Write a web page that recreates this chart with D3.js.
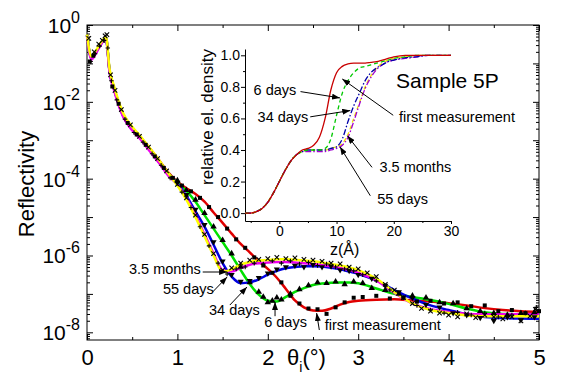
<!DOCTYPE html>
<html>
<head>
<meta charset="utf-8">
<script src="https://cdn.jsdelivr.net/npm/d3@7"></script>
<style>
    body { margin: 0; background: #fff; }
    svg { display: block; font-family: "Liberation Sans", Arial, sans-serif; }
</style>
</head>
<body>
<div id="chart"></div>
<script>
'use strict';

// Angle grid (deg) of the fitted curves
const thetaGrid = [0, 0.05, 0.1, 0.15, 0.21, 0.25, 0.3, 0.4, 0.5, 0.6, 0.7, 0.8, 0.9,
    1.0, 1.1, 1.2, 1.3, 1.4, 1.5, 1.6, 1.7, 1.8, 1.9, 2.0, 2.1, 2.2, 2.3, 2.4, 2.5, 2.6, 2.7, 2.8, 2.9, 3.0,
    3.2, 3.4, 3.6, 3.8, 4.0, 4.2, 4.4, 4.6, 4.8, 5.0];

// Fitted log10(reflectivity)
const fitFirst = [-0.26, -0.85, -0.7, -0.5, -0.34, -1.2, -1.65, -2.33, -2.68, -2.94, -3.23, -3.53, -3.84,
    -4.08, -4.25, -4.4, -4.6, -4.88, -5.15, -5.43, -5.7, -5.92, -6.15, -6.35, -6.58, -6.87, -7.17, -7.35, -7.43, -7.44, -7.38, -7.28, -7.21, -7.18,
    -7.15, -7.14, -7.17, -7.2, -7.24, -7.3, -7.37, -7.42, -7.45, -7.47];
const fit6d = [-0.26, -0.86, -0.7, -0.5, -0.34, -1.2, -1.66, -2.35, -2.7, -2.96, -3.26, -3.56, -3.87,
    -4.1, -4.32, -4.6, -4.95, -5.3, -5.65, -6.0, -6.38, -6.74, -7.02, -7.18, -7.2, -7.08, -6.95, -6.85, -6.77, -6.73, -6.71, -6.7, -6.7, -6.72,
    -6.86, -7.0, -7.08, -7.16, -7.26, -7.38, -7.48, -7.52, -7.53, -7.53];
const fit34d = [-0.27, -0.87, -0.71, -0.51, -0.35, -1.22, -1.68, -2.37, -2.72, -2.98, -3.28, -3.58, -3.9,
    -4.12, -4.45, -4.85, -5.25, -5.72, -6.2, -6.55, -6.72, -6.7, -6.62, -6.5, -6.4, -6.33, -6.3, -6.28, -6.28, -6.29, -6.32, -6.36, -6.42, -6.48,
    -6.65, -6.9, -7.12, -7.3, -7.42, -7.53, -7.6, -7.63, -7.64, -7.65];
const fit55d = [-0.28, -0.9, -0.73, -0.52, -0.36, -1.24, -1.7, -2.39, -2.74, -3.0, -3.3, -3.6, -3.92,
    -4.15, -4.5, -4.95, -5.45, -5.95, -6.38, -6.42, -6.32, -6.24, -6.2, -6.18, -6.17, -6.17, -6.18, -6.2, -6.22, -6.25, -6.28, -6.32, -6.38, -6.45,
    -6.65, -6.97, -7.25, -7.4, -7.47, -7.52, -7.53, -7.53, -7.53, -7.53];
const fit35m = [-0.25, -0.82, -0.66, -0.47, -0.32, -1.15, -1.6, -2.3, -2.65, -2.92, -3.22, -3.53, -3.86,
    -4.18, -4.55, -5.0, -5.5, -6.0, -6.42, -6.36, -6.24, -6.17, -6.13, -6.12, -6.1, -6.1, -6.11, -6.13, -6.15, -6.18, -6.22, -6.26, -6.31, -6.38,
    -6.6, -6.95, -7.25, -7.42, -7.5, -7.56, -7.58, -7.58, -7.58, -7.58];

// Measured points [theta, log10(R)]
const ptsFirst = [[0.03, -0.95], [0.07, -0.8], [0.28, -1.6], [0.35, -2.05], [0.45, -2.55], [0.55, -2.85], [0.65, -3.12],
    [0.75, -3.42], [0.85, -3.72], [0.95, -3.98], [1.05, -4.18], [1.15, -4.33], [1.25, -4.5], [1.35, -4.74], [1.45, -5.0],
    [1.55, -5.3], [1.65, -5.58], [1.75, -5.8], [1.85, -6.05], [1.95, -6.26], [2.05, -6.45], [2.15, -6.7], [2.25, -7.05],
    [2.35, -7.25], [2.45, -7.38], [2.55, -7.4], [2.65, -7.52], [2.75, -7.35], [2.85, -7.22], [2.95, -7.1], [3.05, -7.08],
    [3.2, -7.05], [3.35, -7.12], [3.5, -7.1], [3.65, -7.2], [3.8, -7.18], [3.95, -7.25], [4.1, -7.22], [4.25, -7.32],
    [4.4, -7.3], [4.55, -7.45], [4.7, -7.42], [4.85, -7.5], [5.0, -7.45]];
const pts6d = [[1.0, -4.05], [1.1, -4.3], [1.2, -4.55], [1.3, -4.9], [1.4, -5.25], [1.5, -5.6], [1.6, -5.95], [1.7, -6.3],
    [1.8, -6.7], [1.9, -6.95], [1.95, -7.08], [2.0, -7.22], [2.05, -7.18], [2.1, -7.1], [2.15, -7.15], [2.25, -7.0],
    [2.35, -6.88], [2.45, -6.78], [2.55, -6.7], [2.65, -6.72], [2.75, -6.68], [2.85, -6.75], [2.95, -6.68], [3.05, -6.72],
    [3.15, -6.85], [3.3, -6.9], [3.45, -7.0], [3.6, -7.05], [3.75, -7.1], [3.9, -7.22], [4.05, -7.25], [4.2, -7.38],
    [4.35, -7.45], [4.5, -7.5], [4.65, -7.55], [4.8, -7.5], [4.95, -7.48]];
const pts34d = [[1.0, -4.1], [1.1, -4.42], [1.2, -4.8], [1.3, -5.2], [1.4, -5.65], [1.5, -6.15], [1.6, -6.5], [1.7, -6.68],
    [1.8, -6.66], [1.9, -6.58], [2.0, -6.46], [2.1, -6.36], [2.2, -6.3], [2.3, -6.26], [2.4, -6.3], [2.5, -6.24],
    [2.6, -6.3], [2.7, -6.28], [2.8, -6.38], [2.9, -6.4], [3.0, -6.5], [3.15, -6.6], [3.3, -6.78], [3.45, -6.95],
    [3.6, -7.1], [3.75, -7.28], [3.9, -7.35], [4.05, -7.5], [4.2, -7.55], [4.35, -7.62], [4.5, -7.7], [4.65, -7.6],
    [4.8, -7.68], [4.95, -7.6]];
const pts55d = [[0.04, -0.95], [0.09, -0.75], [0.14, -0.55], [0.19, -0.4], [0.23, -0.6], [0.27, -1.45], [0.33, -1.95],
    [0.42, -2.45], [0.52, -2.8], [0.62, -3.05], [0.72, -3.35], [0.82, -3.65], [0.92, -3.98], [1.05, -4.35], [1.15, -4.75],
    [1.25, -5.25], [1.35, -5.75], [1.45, -6.2], [1.55, -6.48], [1.65, -6.35], [1.75, -6.3], [1.85, -6.2], [1.95, -6.22],
    [2.05, -6.14], [2.15, -6.2], [2.25, -6.14], [2.35, -6.22], [2.45, -6.18], [2.55, -6.26], [2.65, -6.22], [2.75, -6.3],
    [2.85, -6.35], [2.95, -6.4], [3.05, -6.5], [3.2, -6.66], [3.35, -6.9], [3.5, -7.1], [3.65, -7.3], [3.8, -7.42],
    [3.95, -7.5], [4.1, -7.48], [4.25, -7.55], [4.4, -7.5], [4.55, -7.6], [4.7, -7.55], [4.85, -7.5], [4.97, -7.35]];
const pts35m = [[0.02, -0.35], [0.08, -0.7], [0.13, -0.5], [0.17, -0.4], [0.2, -0.28], [0.22, -0.25], [0.26, -1.3],
    [0.31, -1.7], [0.38, -2.2], [0.48, -2.6], [0.58, -2.9], [0.68, -3.18], [0.78, -3.48], [0.88, -3.8], [1.0, -4.15],
    [1.1, -4.5], [1.2, -4.95], [1.3, -5.45], [1.4, -5.95], [1.5, -6.38], [1.6, -6.32], [1.7, -6.2], [1.8, -6.12],
    [1.9, -6.1], [2.0, -6.08], [2.1, -6.05], [2.2, -6.08], [2.3, -6.06], [2.4, -6.1], [2.5, -6.12], [2.6, -6.15],
    [2.7, -6.2], [2.8, -6.22], [2.9, -6.3], [3.0, -6.35], [3.1, -6.45], [3.2, -6.55], [3.3, -6.75], [3.4, -6.9],
    [3.5, -7.1], [3.6, -7.25], [3.7, -7.38], [3.8, -7.45], [3.9, -7.5], [4.0, -7.55], [4.1, -7.6], [4.2, -7.52],
    [4.3, -7.62], [4.4, -7.55], [4.5, -7.6], [4.6, -7.65], [4.7, -7.6], [4.8, -7.7], [4.9, -7.58], [4.96, -7.4]];

// Inset: depth grid z (Å) and relative electron density profiles
const zGrid = [-6, -5, -4, -3, -2, -1, 0, 1, 2, 3, 4, 5, 6, 7, 8, 9, 10, 11, 12, 13, 14, 15, 16, 17, 18, 19, 20, 22, 24, 26, 28, 30];
const rhoFirst = [0, 0, 0.01, 0.03, 0.07, 0.13, 0.2, 0.27, 0.33, 0.37, 0.4, 0.41, 0.43, 0.48, 0.6, 0.78, 0.89, 0.93, 0.945,
    0.95, 0.95, 0.95, 0.955, 0.96, 0.97, 0.98, 0.99, 1, 1, 1, 1, 1];
const rho6d = [0, 0, 0.01, 0.03, 0.07, 0.13, 0.2, 0.27, 0.33, 0.37, 0.39, 0.4, 0.4, 0.4, 0.41, 0.47, 0.62, 0.76, 0.84,
    0.89, 0.92, 0.93, 0.94, 0.95, 0.96, 0.97, 0.98, 0.99, 1, 1, 1, 1];
const rho34d = [0, 0, 0.01, 0.03, 0.07, 0.13, 0.2, 0.27, 0.33, 0.37, 0.39, 0.4, 0.4, 0.4, 0.4, 0.41, 0.42, 0.47, 0.58,
    0.68, 0.76, 0.84, 0.89, 0.92, 0.94, 0.96, 0.97, 0.985, 0.99, 1, 1, 1];
const rho55d = [0, 0, 0.01, 0.03, 0.07, 0.13, 0.2, 0.27, 0.33, 0.37, 0.39, 0.39, 0.39, 0.39, 0.39, 0.4, 0.41, 0.43, 0.48,
    0.58, 0.69, 0.79, 0.86, 0.91, 0.94, 0.96, 0.97, 0.98, 0.99, 1, 1, 1];
const rho35m = [0, 0, 0.01, 0.03, 0.07, 0.13, 0.2, 0.27, 0.33, 0.37, 0.39, 0.4, 0.4, 0.4, 0.4, 0.41, 0.42, 0.44, 0.5,
    0.6, 0.7, 0.8, 0.87, 0.92, 0.95, 0.97, 0.98, 0.99, 1, 1, 1, 1];

// Series names
const seriesNames = ['first measurement', '6 days', '34 days', '55 days', '3.5 months'];

// Tick values
const thetaTicks = [0, 1, 2, 3, 4, 5];
const thetaMinor = [0.5, 1.5, 2.5, 3.5, 4.5];
const decadeLabels = [0, -2, -4, -6, -8];
const zTicks = [0, 10, 20, 30];
const zMinor = [-5, 5, 15, 25];
const rhoTicks = [0, 0.2, 0.4, 0.6, 0.8, 1.0];
const rhoMinor = [0.1, 0.3, 0.5, 0.7, 0.9];


class ReflectivityVis {

    /*
    Constructor
    */
    constructor(_parent) {
        this.parent = _parent;
        this.initVis();
    }

    /*
    initVis
    */
    initVis() {
        const vis = this;

        // Config svg
        vis.w = 568;
        vis.h = 385;
        vis.svg = d3.select(`#${vis.parent}`)
            .append('svg')
            .attr('width', vis.w)
            .attr('height', vis.h);
        vis.svg.append('rect')
            .attr('width', vis.w)
            .attr('height', vis.h)
            .attr('fill', '#fff');

        // Config g (main plot)
        vis.gMargin = {top: 25, right: 29, bottom: 45, left: 87};
        vis.gW = vis.w - (vis.gMargin.left + vis.gMargin.right);
        vis.gH = vis.h - (vis.gMargin.top + vis.gMargin.bottom);
        vis.g = vis.svg.append('g')
            .attr('transform', `translate(${vis.gMargin.left},${vis.gMargin.top})`);

        // Main scales
        vis.x = d3.scaleLinear().domain([0, 5]).range([0, vis.gW]);
        vis.y = d3.scaleLog().domain([Math.pow(10, -8.2), 1]).range([vis.gH, 0]);

        // Inset scales (absolute px)
        vis.zX = d3.scaleLinear().domain([-6, 30]).range([245, 451]);
        vis.rhoY = d3.scaleLinear().domain([-0.05, 1.04]).range([221, 49]);

        // Styles per series
        vis.styles = [
            {main: '#e00000', inset: '#c80000', dash: null, sym: d3.symbolSquare, size: 16, filled: true},
            {main: '#00e000', inset: '#00c800', dash: '4,3', sym: d3.symbolTriangle, size: 18, filled: true},
            {main: '#0000e0', inset: '#0000a8', dash: '6,2,1.5,2', sym: d3.symbolTriangle, size: 16, filled: true, flip: true},
            {main: '#ee00ee', inset: '#a000d0', dash: '6,2,1.5,2', sym: 'plus', size: 20, filled: false},
            {main: '#ffff00', inset: '#f0e000', dash: '4,3', sym: 'times', size: 20, filled: false}
        ];

        // Arrow marker
        vis.svg.append('defs')
            .append('marker')
            .attr('id', 'arrowHead')
            .attr('viewBox', '0 0 8 6')
            .attr('refX', 8)
            .attr('refY', 3)
            .attr('markerWidth', 8)
            .attr('markerHeight', 6)
            .attr('markerUnits', 'userSpaceOnUse')
            .attr('orient', 'auto')
            .append('path')
            .attr('d', 'M0,0L8,3L0,6Z')
            .attr('fill', '#000');

        vis.wrangleData();
    }

    /*
    wrangleData
    */
    wrangleData() {
        const vis = this;

        const fits = [fitFirst, fit6d, fit34d, fit55d, fit35m];
        const pts = [ptsFirst, pts6d, pts34d, pts55d, pts35m];
        const rhos = [rhoFirst, rho6d, rho34d, rho55d, rho35m];

        vis.displayData = seriesNames.map((name, i) => ({
            name: name,
            style: vis.styles[i],
            fit: thetaGrid.map((t, j) => ({theta: t, r: Math.pow(10, fits[i][j])})),
            points: pts[i].map(p => ({theta: p[0], r: Math.pow(10, p[1])})),
            profile: zGrid.map((z, j) => ({z: z, rho: rhos[i][j]}))
        }));

        vis.updateVis();
    }

    /*
    updateVis
    */
    updateVis() {
        const vis = this;
        const black = '#000';

        // Tick values on log axis
        const decades = d3.range(-8, 1).map(d => Math.pow(10, d));
        const logMinor = [];
        d3.range(-9, 0).forEach(d => {
            for (let k = 2; k <= 9; k++) {
                const v = k * Math.pow(10, d);
                if (v >= Math.pow(10, -8.2) && v < 1) logMinor.push(v);
            }
        });

        const cleanAxis = g => {
            g.select('.domain').remove();
            g.selectAll('line').attr('stroke', black);
        };

        // Bottom axis
        vis.g.append('g')
            .attr('transform', `translate(0,${vis.gH})`)
            .call(d3.axisBottom(vis.x).tickValues(thetaTicks).tickSize(-6).tickPadding(9).tickFormat(d3.format('d')))
            .call(cleanAxis)
            .call(g => g.selectAll('text').attr('font-size', 22).attr('fill', black).attr('font-family', null));
        vis.g.append('g')
            .attr('transform', `translate(0,${vis.gH})`)
            .call(d3.axisBottom(vis.x).tickValues(thetaMinor).tickSize(-3).tickFormat(''))
            .call(cleanAxis);

        // Top axis
        vis.g.append('g')
            .call(d3.axisTop(vis.x).tickValues(thetaTicks).tickSize(-6).tickFormat(''))
            .call(cleanAxis);
        vis.g.append('g')
            .call(d3.axisTop(vis.x).tickValues(thetaMinor).tickSize(-3).tickFormat(''))
            .call(cleanAxis);

        // Left and right axes
        [[d3.axisLeft, 0], [d3.axisRight, vis.gW]].forEach(([axisFn, tx]) => {
            vis.g.append('g')
                .attr('transform', `translate(${tx},0)`)
                .call(axisFn(vis.y).tickValues(decades).tickSize(-6).tickFormat(''))
                .call(cleanAxis);
            vis.g.append('g')
                .attr('transform', `translate(${tx},0)`)
                .call(axisFn(vis.y).tickValues(logMinor).tickSize(-3).tickFormat(''))
                .call(cleanAxis);
        });

        // Left tick labels 10^n
        const yLab = vis.g.append('g').attr('class', 'yLabels');
        decadeLabels.forEach(e => {
            const t = yLab.append('text')
                .attr('x', -7)
                .attr('y', vis.y(Math.pow(10, e)) + 8)
                .attr('text-anchor', 'end')
                .attr('font-size', 21)
                .attr('fill', black);
            t.append('tspan').text('10');
            t.append('tspan')
                .attr('dy', -10)
                .attr('font-size', 16)
                .text(e === 0 ? '0' : `-${-e}`);
        });

        // Frame
        vis.g.append('rect')
            .attr('width', vis.gW)
            .attr('height', vis.gH)
            .attr('fill', 'none')
            .attr('stroke', black)
            .attr('stroke-width', 1);

        // Fit lines
        const line = d3.line()
            .x(d => vis.x(d.theta))
            .y(d => vis.y(d.r))
            .curve(d3.curveMonotoneX);

        vis.g.append('g')
            .selectAll('.fit')
            .data(vis.displayData)
            .join('path')
            .attr('class', 'fit')
            .attr('d', d => line(d.fit))
            .attr('fill', 'none')
            .attr('stroke', d => d.style.main)
            .attr('stroke-width', 2.5)
            .attr('stroke-linejoin', 'round');

        // Measured points
        const plusSym = {
            draw(ctx, size) {
                const r = Math.sqrt(size) / 2;
                ctx.moveTo(-r, 0); ctx.lineTo(r, 0);
                ctx.moveTo(0, -r); ctx.lineTo(0, r);
            }
        };
        const timesSym = {
            draw(ctx, size) {
                const r = Math.sqrt(size) / 2;
                ctx.moveTo(-r, -r); ctx.lineTo(r, r);
                ctx.moveTo(r, -r); ctx.lineTo(-r, r);
            }
        };
        vis.displayData.forEach(s => {
            const st = s.style;
            const type = st.sym === 'plus' ? plusSym : (st.sym === 'times' ? timesSym : st.sym);
            const sym = d3.symbol().type(type).size(st.size);
            vis.g.append('g')
                .selectAll('path')
                .data(s.points)
                .join('path')
                .attr('d', sym)
                .attr('transform', d => `translate(${vis.x(d.theta)},${vis.y(d.r)})${st.flip ? ' rotate(180)' : ''}`)
                .attr('fill', st.filled ? black : 'none')
                .attr('stroke', st.filled ? 'none' : black)
                .attr('stroke-width', 1.1);
        });

        // Axis titles
        vis.svg.append('text')
            .attr('transform', 'translate(34,184) rotate(-90)')
            .attr('text-anchor', 'middle')
            .attr('font-size', 22)
            .attr('fill', black)
            .text('Reflectivity');
        const xt = vis.svg.append('text')
            .attr('x', 287)
            .attr('y', 365)
            .attr('font-size', 22)
            .attr('fill', black);
        xt.append('tspan').text('\u03b8');
        xt.append('tspan').attr('font-size', 14).attr('dy', 7).text('i');
        xt.append('tspan').attr('dy', -7).text('(\u00b0)');

        // Main annotations (data coords)
        const mainNotes = [
            {text: '3.5 months', at: [0.465, -6.48], from: [1.28, -6.43], to: [1.55, -6.43]},
            {text: '55 days', at: [0.84, -7.0], from: [1.39, -6.95], to: [1.55, -6.56]},
            {text: '34 days', at: [1.35, -7.55], from: [1.58, -7.29], to: [1.77, -6.82]},
            {text: '6 days', at: [1.96, -7.86], from: [2.08, -7.58], to: [2.08, -7.21]},
            {text: 'first measurement', at: [2.63, -7.94], from: [2.57, -7.94], to: [2.54, -7.5]}
        ];
        const mx = v => vis.x(v[0]);
        const my = v => vis.y(Math.pow(10, v[1]));
        vis.drawNotes(vis.g, mainNotes, mx, my);

        // ---- Inset ----
        const inset = vis.svg.append('g').attr('class', 'inset');

        inset.append('g')
            .attr('transform', 'translate(245,0)')
            .call(d3.axisLeft(vis.rhoY).tickValues(rhoTicks).tickSize(4).tickSizeOuter(0).tickPadding(1).tickFormat(d3.format('.1f')))
            .call(g => g.selectAll('line, path').attr('stroke', black))
            .call(g => g.selectAll('text').attr('font-size', 14).attr('fill', black).attr('font-family', null));
        inset.append('g')
            .attr('transform', 'translate(245,0)')
            .call(d3.axisLeft(vis.rhoY).tickValues(rhoMinor).tickSize(2).tickFormat(''))
            .call(g => g.select('.domain').remove())
            .call(g => g.selectAll('line').attr('stroke', black));

        inset.append('g')
            .attr('transform', 'translate(0,221)')
            .call(d3.axisBottom(vis.zX).tickValues(zTicks).tickSize(3).tickSizeOuter(0).tickPadding(2).tickFormat(d3.format('d')))
            .call(g => g.selectAll('line, path').attr('stroke', black))
            .call(g => g.selectAll('text').attr('font-size', 14).attr('fill', black).attr('font-family', null));
        inset.append('g')
            .attr('transform', 'translate(0,221)')
            .call(d3.axisBottom(vis.zX).tickValues(zMinor).tickSize(2).tickFormat(''))
            .call(g => g.select('.domain').remove())
            .call(g => g.selectAll('line').attr('stroke', black));

        // Density profiles
        const profLine = d3.line()
            .x(d => vis.zX(d.z))
            .y(d => vis.rhoY(d.rho))
            .curve(d3.curveMonotoneX);
        inset.append('g')
            .selectAll('.profile')
            .data(vis.displayData.slice().reverse())
            .join('path')
            .attr('class', 'profile')
            .attr('d', d => profLine(d.profile))
            .attr('fill', 'none')
            .attr('stroke', d => d.style.inset)
            .attr('stroke-width', 1.3)
            .attr('stroke-dasharray', d => d.style.dash);

        // Inset titles
        inset.append('text')
            .attr('transform', 'translate(213,117) rotate(-90)')
            .attr('text-anchor', 'middle')
            .attr('font-size', 17)
            .attr('fill', black)
            .text('relative el. density');
        inset.append('text')
            .attr('x', 330)
            .attr('y', 255)
            .attr('font-size', 16)
            .attr('fill', black)
            .text('z(\u00c5)');
        inset.append('text')
            .attr('x', vis.zX(20.4))
            .attr('y', vis.rhoY(0.79))
            .attr('font-size', 21)
            .attr('fill', black)
            .text('Sample 5P');

        // Inset annotations
        const insetNotes = [
            {text: '6 days', at: [-4.5, 0.75], from: [3.7, 0.77], to: [10.6, 0.73]},
            {text: '34 days', at: [-3.8, 0.58], from: [5.4, 0.61], to: [12.4, 0.65]},
            {text: 'first measurement', at: [20.9, 0.58], from: [19.9, 0.62], to: [11, 0.85]},
            {text: '3.5 months', at: [17.5, 0.26], from: [16.2, 0.29], to: [11.9, 0.49]},
            {text: '55 days', at: [17.1, 0.06], from: [15.9, 0.11], to: [10.6, 0.42]}
        ];
        vis.drawNotes(inset, insetNotes, v => vis.zX(v[0]), v => vis.rhoY(v[1]));
    }

    /*
    drawNotes
    */
    drawNotes(parent, notes, px, py) {
        const g = parent.append('g').attr('class', 'notes');
        g.selectAll('text')
            .data(notes)
            .join('text')
            .attr('x', d => px(d.at))
            .attr('y', d => py(d.at))
            .attr('font-size', 14.5)
            .attr('fill', '#000')
            .text(d => d.text);
        g.selectAll('line')
            .data(notes)
            .join('line')
            .attr('x1', d => px(d.from))
            .attr('y1', d => py(d.from))
            .attr('x2', d => px(d.to))
            .attr('y2', d => py(d.to))
            .attr('stroke', '#000')
            .attr('stroke-width', 1)
            .attr('marker-end', 'url(#arrowHead)');
    }
}

new ReflectivityVis('chart');
</script>
</body>
</html>
